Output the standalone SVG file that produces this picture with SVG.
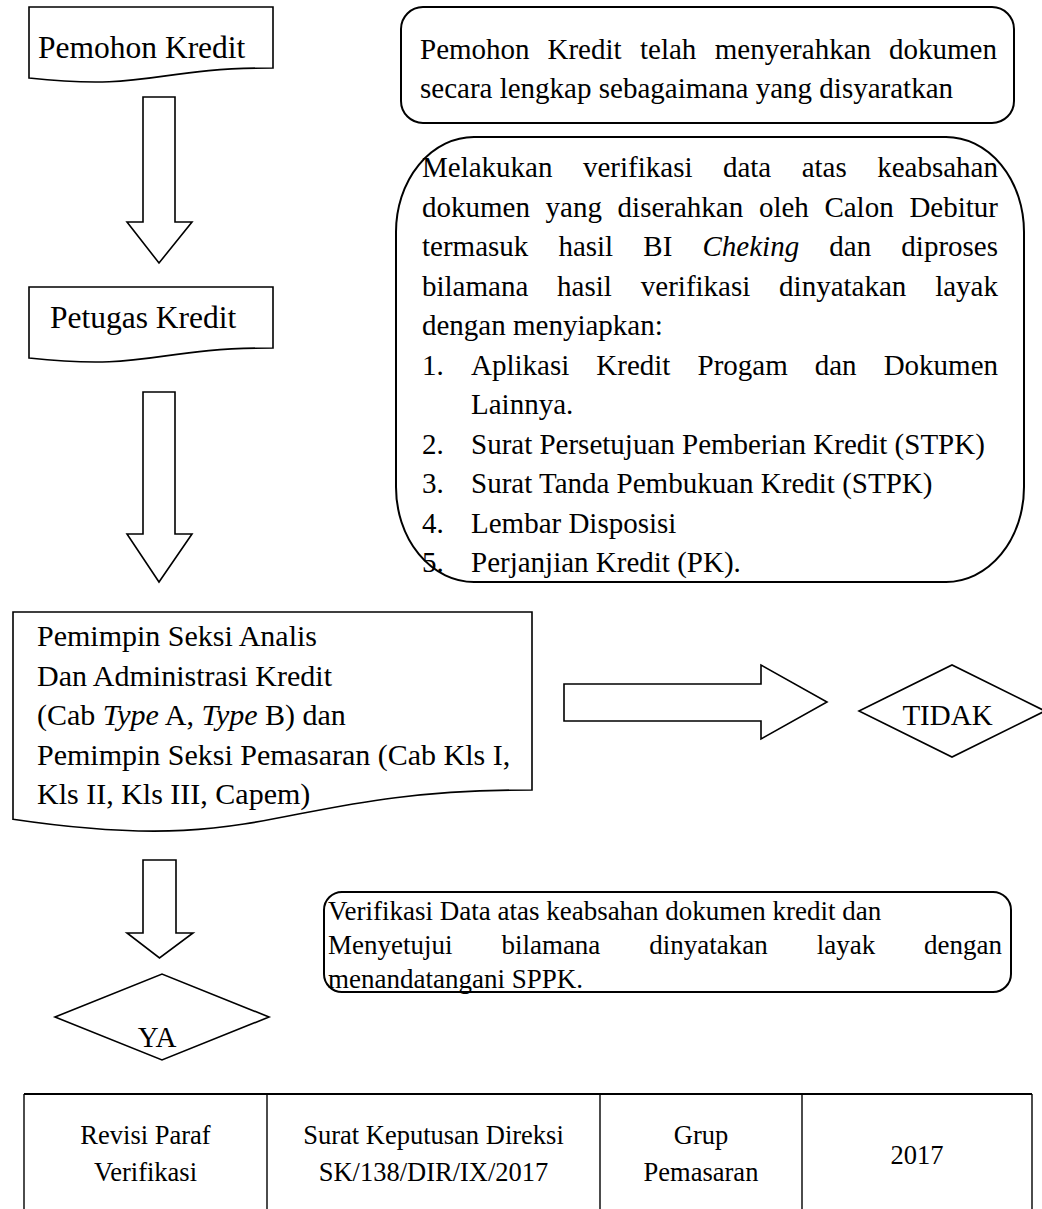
<svg xmlns="http://www.w3.org/2000/svg" width="1042" height="1209" viewBox="0 0 1042 1209">
<style>
text{font-family:"Liberation Serif","Times New Roman",serif;fill:#000}
.lbl{font-size:31.5px}
.b29{font-size:29px}
.b30{font-size:30px}
.b27{font-size:27px}
.tb{font-size:26.5px;text-anchor:middle}
.mid{text-anchor:middle}
.end{text-anchor:end}
.it{font-style:italic}
.shape{fill:#fff;stroke:#000;stroke-width:1.6}
.box{fill:#fff;stroke:#000;stroke-width:2}
.arrow{fill:#fff;stroke:#000;stroke-width:1.6;stroke-linejoin:miter}
.tline{stroke:#000;stroke-width:1.4;fill:none}
</style>
<rect width="1042" height="1209" fill="#fff"/>

<g id="connectors">
<polygon class="arrow" points="143,97 175,97 175,222 192,222 159,263 127,222 143,222"/>
<polygon class="arrow" points="143,392 175,392 175,534 192,534 159,582 127,534 143,534"/>
<polygon class="arrow" points="564,684 761,684 761,665 827,702 761,739 761,721 564,721"/>
<polygon class="arrow" points="143,860 176,860 176,933 193,933 159.5,958 127,933 143,933"/>
</g>

<g id="pemohon-kredit">
<path class="shape" d="M29,7 H273 V68 C151,68 151,91.2 29,78 Z"/>
<text class="lbl" x="38" y="58">Pemohon Kredit</text>
</g>

<g id="petugas-kredit">
<path class="shape" d="M29,287 H273 V348 C151,348 151,371.2 29,358 Z"/>
<text class="lbl" x="50" y="328">Petugas Kredit</text>
</g>

<g id="note-dokumen">
<rect class="box" x="401" y="7" width="613" height="116" rx="22" ry="22"/>
<text class="b29" y="59"><tspan x="420">Pemohon</tspan><tspan x="547.5">Kredit</tspan><tspan x="640">telah</tspan><tspan x="714.8">menyerahkan</tspan><tspan x="997" class="end">dokumen</tspan></text>
<text class="b29" x="420" y="98">secara lengkap sebagaimana yang disyaratkan</text>
</g>

<g id="note-verifikasi">
<rect class="box" x="396" y="137" width="628" height="445" rx="78" ry="95"/>
<text class="b29" y="177"><tspan x="422">Melakukan</tspan><tspan x="583">verifikasi</tspan><tspan x="722.9">data</tspan><tspan x="801.7">atas</tspan><tspan x="998" class="end">keabsahan</tspan></text>
<text class="b29" y="216.5"><tspan x="422">dokumen</tspan><tspan x="545.6">yang</tspan><tspan x="617.6">diserahkan</tspan><tspan x="758.9">oleh</tspan><tspan x="824.4">Calon</tspan><tspan x="998" class="end">Debitur</tspan></text>
<text class="b29" y="256"><tspan x="422">termasuk</tspan><tspan x="558.4">hasil</tspan><tspan x="643.3">BI</tspan><tspan x="702.5" class="it">Cheking</tspan><tspan x="829.3">dan</tspan><tspan x="998" class="end">diproses</tspan></text>
<text class="b29" y="295.5"><tspan x="422">bilamana</tspan><tspan x="557.1">hasil</tspan><tspan x="640.8">verifikasi</tspan><tspan x="779.1">dinyatakan</tspan><tspan x="998" class="end">layak</tspan></text>
<text class="b29" x="422" y="335">dengan menyiapkan:</text>
<text class="b29" y="374.5"><tspan x="422">1.</tspan><tspan x="471">Aplikasi</tspan><tspan x="596.3">Kredit</tspan><tspan x="697.5">Progam</tspan><tspan x="814.7">dan</tspan><tspan x="998" class="end">Dokumen</tspan></text>
<text class="b29" x="471" y="414">Lainnya.</text>
<text class="b29" y="453.5"><tspan x="422">2.</tspan><tspan x="471">Surat Persetujuan Pemberian Kredit (STPK)</tspan></text>
<text class="b29" y="493"><tspan x="422">3.</tspan><tspan x="471">Surat Tanda Pembukuan Kredit (STPK)</tspan></text>
<text class="b29" y="532.5"><tspan x="422">4.</tspan><tspan x="471">Lembar Disposisi</tspan></text>
<text class="b29" y="572"><tspan x="422">5.</tspan><tspan x="471">Perjanjian Kredit (PK).</tspan></text>
</g>

<g id="pemimpin-seksi">
<path class="shape" d="M13,612 H532 V790 C272.5,790 272.5,857.9 13,819.3 Z"/>
<text class="b30" x="37" y="646">Pemimpin Seksi Analis</text>
<text class="b30" x="37" y="685.5">Dan Administrasi Kredit</text>
<text class="b30" x="37" y="725">(Cab <tspan class="it">Type</tspan> A, <tspan class="it">Type</tspan> B) dan</text>
<text class="b30" x="37" y="764.5">Pemimpin Seksi Pemasaran (Cab Kls I,</text>
<text class="b30" x="37" y="804">Kls II, Kls III, Capem)</text>
</g>

<g id="tidak">
<polygon class="shape" points="859,711 952,665 1045,711 952,757"/>
<text class="b29 mid" x="947.5" y="725">TIDAK</text>
</g>

<g id="note-sppk">
<rect class="box" x="324" y="892" width="687" height="100" rx="18" ry="18"/>
<text class="b27" x="328" y="920">Verifikasi Data atas keabsahan dokumen kredit dan</text>
<text class="b27" y="954"><tspan x="328">Menyetujui</tspan><tspan x="501.4">bilamana</tspan><tspan x="649.3">dinyatakan</tspan><tspan x="816.7">layak</tspan><tspan x="1002" class="end">dengan</tspan></text>
<text class="b27" x="328" y="988">menandatangani SPPK.</text>
</g>

<g id="ya">
<polygon class="shape" points="55,1017 162,974 269,1017 162,1060"/>
<text class="b29 mid" x="157" y="1047">YA</text>
</g>

<g id="footer-table">
<line class="tline" x1="24" y1="1094" x2="1032" y2="1094" style="stroke-width:2.2"/>
<line class="tline" x1="24" y1="1094" x2="24" y2="1209"/>
<line class="tline" x1="267" y1="1094" x2="267" y2="1209"/>
<line class="tline" x1="600" y1="1094" x2="600" y2="1209"/>
<line class="tline" x1="802" y1="1094" x2="802" y2="1209"/>
<line class="tline" x1="1032" y1="1094" x2="1032" y2="1209"/>
<text class="tb" x="145.5" y="1144">Revisi Paraf</text>
<text class="tb" x="145.5" y="1181">Verifikasi</text>
<text class="tb" x="433.5" y="1144">Surat Keputusan Direksi</text>
<text class="tb" x="433.5" y="1181">SK/138/DIR/IX/2017</text>
<text class="tb" x="701" y="1144">Grup</text>
<text class="tb" x="701" y="1181">Pemasaran</text>
<text class="tb" x="917" y="1164">2017</text>
</g>
</svg>
